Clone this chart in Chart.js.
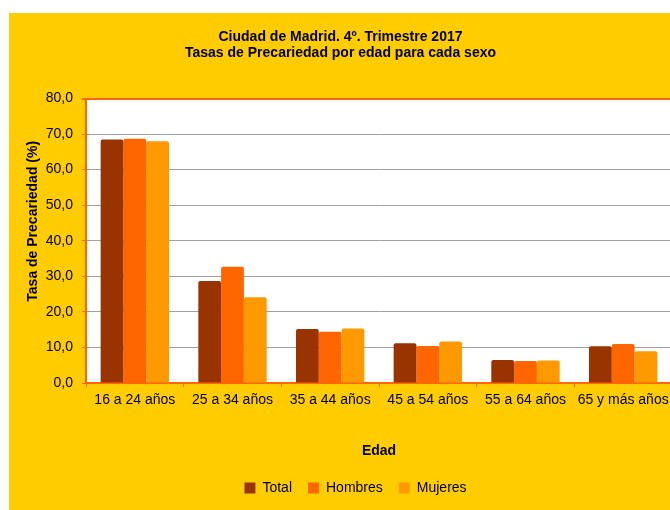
<!DOCTYPE html>
<html>
<head>
<meta charset="utf-8">
<script src="https://cdn.jsdelivr.net/npm/chart.js@4"></script>
<style>
  html, body { margin: 0; padding: 0; background: #ffffff; overflow: hidden; width: 670px; height: 510px; }
  #wrap { position: absolute; left: 9px; top: 13px; width: 680px; height: 497px; }
  canvas { background: #FFCC00; }
</style>
</head>
<body>
<div id="wrap"><canvas id="c" width="680" height="497"></canvas></div>
<script>
const titleLines = ['Ciudad de Madrid. 4º. Trimestre 2017', 'Tasas de Precariedad por edad para cada sexo'];
const categories = ['16 a 24 años', '25 a 34 años', '35 a 44 años', '45 a 54 años', '55 a 64 años', '65 y más años'];
const seriesNames = ['Total', 'Hombres', 'Mujeres'];
const total   = [68.5, 28.7, 15.2, 11.2, 6.5, 10.3];
const hombres = [68.7, 32.7, 14.4, 10.4, 6.2, 11.0];
const mujeres = [68.0, 24.1, 15.3, 11.7, 6.3, 8.9];
const yTicks = [0, 10, 20, 30, 40, 50, 60, 70, 80];
const yTitle = 'Tasa de Precariedad (%)';
const xTitle = 'Edad';

const ORANGE = '#FF6600';
const FONT = "'Liberation Sans', Arial, sans-serif";

const plotBg = {
  id: 'plotBg',
  beforeDraw(chart) {
    const a = chart.chartArea, ctx = chart.ctx;
    ctx.save();
    ctx.fillStyle = '#ffffff';
    ctx.fillRect(a.left, a.top, a.right - a.left, a.bottom - a.top);
    ctx.restore();
  },
  afterLayout(chart) {
    if (chart.legend) { chart.legend.left += 15; chart.legend.right += 15; }
  }
};

new Chart(document.getElementById('c'), {
  type: 'bar',
  data: {
    labels: categories,
    datasets: [
      { label: seriesNames[0], data: total,   backgroundColor: '#993300' },
      { label: seriesNames[1], data: hombres, backgroundColor: '#FF6600' },
      { label: seriesNames[2], data: mujeres, backgroundColor: '#FF9900' }
    ]
  },
  options: {
    responsive: false,
    animation: false,
    devicePixelRatio: 1,
    layout: { padding: { left: 0, right: 17, top: 0, bottom: 5 } },
    datasets: { bar: { categoryPercentage: 0.7, barPercentage: 1.0, borderRadius: { topLeft: 2, topRight: 2 }, borderSkipped: 'bottom' } },
    plugins: {
      title: {
        display: true,
        text: titleLines,
        color: '#000',
        font: { family: FONT, size: 14, weight: 'bold', lineHeight: 1.1 },
        padding: { top: 16.8, bottom: 37.9 }
      },
      legend: {
        display: true,
        position: 'bottom',
        labels: {
          color: '#000',
          font: { family: FONT, size: 14 },
          boxWidth: 11,
          boxHeight: 11,
          padding: 16
        }
      },
      tooltip: { enabled: false }
    },
    scales: {
      x: {
        afterFit(scale) { scale.height = 82; },
        grid: { drawOnChartArea: false, drawTicks: true, tickLength: 4, tickColor: ORANGE, offset: true },
        border: { color: ORANGE, width: 2 },
        ticks: { color: '#000', font: { family: FONT, size: 14 }, padding: 4.6, maxRotation: 0, autoSkip: false },
        title: {
          display: true, text: xTitle, color: '#000',
          font: { family: FONT, size: 14, weight: 'bold' },
          padding: { top: 0, bottom: 5.6 }
        }
      },
      y: {
        min: yTicks[0],
        max: yTicks[yTicks.length - 1],
        afterFit(scale) { scale.width = 77; },
        afterBuildTicks(scale) { scale.ticks = yTicks.map(v => ({ value: v })); },
        grid: {
          color: (c) => (c.tick && c.tick.value === 80) ? ORANGE : '#A0A0A0',
          lineWidth: (c) => (c.tick && c.tick.value === 80) ? 2 : 1,
          tickLength: 4,
          tickColor: ORANGE
        },
        border: { color: ORANGE, width: 2 },
        ticks: {
          color: '#000',
          font: { family: FONT, size: 14 },
          padding: 9,
          callback: (v) => Number(v).toFixed(1).replace('.', ',')
        },
        title: {
          display: true,
          text: '          ' + yTitle,
          color: '#000',
          font: { family: FONT, size: 14, weight: 'bold' },
          padding: { top: 15.6, bottom: 0 }
        }
      }
    }
  },
  plugins: [plotBg]
});
</script>
</body>
</html>
